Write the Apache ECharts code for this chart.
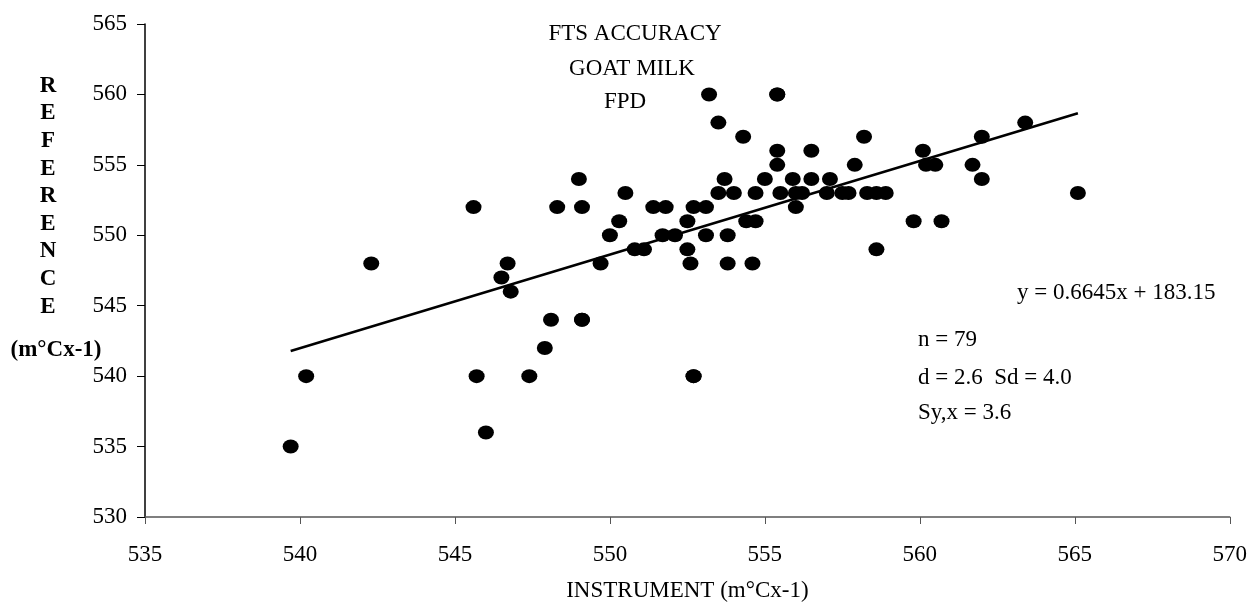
<!DOCTYPE html>
<html>
<head>
<meta charset="utf-8">
<script src="https://cdn.jsdelivr.net/npm/echarts@6.0.0/dist/echarts.min.js"></script>
<style>
  html, body { margin: 0; padding: 0; background: #ffffff; }
  #chart { width: 1250px; height: 608px; }
</style>
</head>
<body>
<div id="chart"></div>
<script>
// instrument reading (x) vs reference reading (y), m°Cx-1
const instrument = [
  542.3, 546.7, 546.5, 546.8, 540.2, 545.7, 546.0, 539.7, 545.6,
  553.2, 555.4, 555.4, 553.5, 554.3, 558.2, 555.4, 556.5, 560.1, 555.4, 557.9,
  549.0, 553.7, 555.0, 555.9, 556.5, 557.1,
  550.5, 553.5, 554.0, 554.7, 555.5, 556.0, 556.2, 557.0, 557.5, 557.7, 558.3, 558.6, 558.9,
  548.3, 549.1, 551.4, 551.8, 552.7, 553.1, 556.0,
  550.3, 552.5, 554.4, 554.7, 559.8,
  550.0, 551.7, 552.1, 553.1, 553.8,
  550.8, 551.1, 552.5, 558.6,
  549.7, 552.6, 553.8, 554.6,
  548.1, 549.1, 549.1, 547.9, 547.4, 552.7, 552.7,
  563.4, 562.0, 560.2, 560.5, 561.7, 562.0, 565.1, 560.7
];
const reference = [
  548, 548, 547, 546, 540, 540, 536, 535, 552,
  560, 560, 560, 558, 557, 557, 556, 556, 556, 555, 555,
  554, 554, 554, 554, 554, 554,
  553, 553, 553, 553, 553, 553, 553, 553, 553, 553, 553, 553, 553,
  552, 552, 552, 552, 552, 552, 552,
  551, 551, 551, 551, 551,
  550, 550, 550, 550, 550,
  549, 549, 549, 549,
  548, 548, 548, 548,
  544, 544, 544, 542, 540, 540, 540,
  558, 557, 555, 555, 555, 554, 553, 551
];

// regression printed on the chart
const slope = 0.6645;
const intercept = 183.15;

const titleLines = ["FTS ACCURACY", "GOAT MILK", "FPD"];
const statLines = ["n = 79", "d = 2.6  Sd = 4.0", "Sy,x = 3.6"];

const FONT = "'Liberation Serif', 'Times New Roman', serif";

let points = instrument.map((x, i) => [x, reference[i]]);
let xMin = Math.min(...instrument);
let xMax = Math.max(...instrument);
let trend = [
  [xMin, slope * xMin + intercept],
  [xMax, slope * xMax + intercept],
];

let option = {
  animation: false,
  backgroundColor: "#ffffff",
  grid: {
    left: 145,
    right: 20,
    top: 24,
    bottom: 91,
  },
  xAxis: {
    type: "value",
    min: 535,
    max: 570,
    interval: 5,
    name: "INSTRUMENT (m°Cx-1)",
    nameLocation: "middle",
    nameGap: 62,
    nameTextStyle: { color: "#000", fontFamily: FONT, fontSize: 23 },
    axisLine: { onZero: false, lineStyle: { color: "#555", width: 1.5 } },
    axisTick: { show: true, inside: false, length: 7, lineStyle: { color: "#555" } },
    axisLabel: { color: "#000", fontFamily: FONT, fontSize: 23, margin: 26 },
    splitLine: { show: false },
  },
  yAxis: {
    type: "value",
    min: 530,
    max: 565,
    interval: 5,
    axisLine: { show: true, onZero: false, lineStyle: { color: "#000", width: 1.5 } },
    axisTick: { show: true, inside: false, length: 8, lineStyle: { color: "#000" } },
    axisLabel: { color: "#000", fontFamily: FONT, fontSize: 23, margin: 18 },
    splitLine: { show: false },
  },
  graphic: [
    // title block
    ...titleLines.map((t, i) => ({
      type: "text",
      x: [635, 632, 625][i],
      y: [45, 80, 113][i],
      style: {
        text: t, fill: "#000", font: "23px " + FONT,
        textAlign: "center", textVerticalAlign: "bottom",
      },
    })),
    // y axis title, stacked letters
    {
      type: "text",
      x: 48,
      y: 72,
      style: {
        text: "REFERENCE".split("").join("\n"),
        fill: "#000", font: "bold 23px " + FONT,
        lineHeight: 27.6, textAlign: "center",
      },
    },
    {
      type: "text",
      x: 56,
      y: 350,
      style: {
        text: "(m°Cx-1)", fill: "#000", font: "bold 23px " + FONT,
        textAlign: "center", textVerticalAlign: "middle",
      },
    },
    // equation
    {
      type: "text",
      x: 1017,
      y: 304,
      style: {
        text: "y = " + slope + "x + " + intercept, fill: "#000", font: "23px " + FONT,
        textAlign: "left", textVerticalAlign: "bottom",
      },
    },
    ...statLines.map((t, i) => ({
      type: "text",
      x: 918,
      y: [351, 389, 424][i],
      style: {
        text: t, fill: "#000", font: "23px " + FONT,
        textAlign: "left", textVerticalAlign: "bottom",
      },
    })),
  ],
  series: [
    {
      type: "scatter",
      data: points,
      symbol: "circle",
      symbolSize: [16, 14],
      itemStyle: { color: "#000", opacity: 1 },
    },
    {
      type: "line",
      data: trend,
      symbol: "none",
      lineStyle: { color: "#000", width: 2.5 },
    },
  ],
};

let myChart = echarts.init(document.getElementById("chart"));
option && myChart.setOption(option);
</script>
</body>
</html>
